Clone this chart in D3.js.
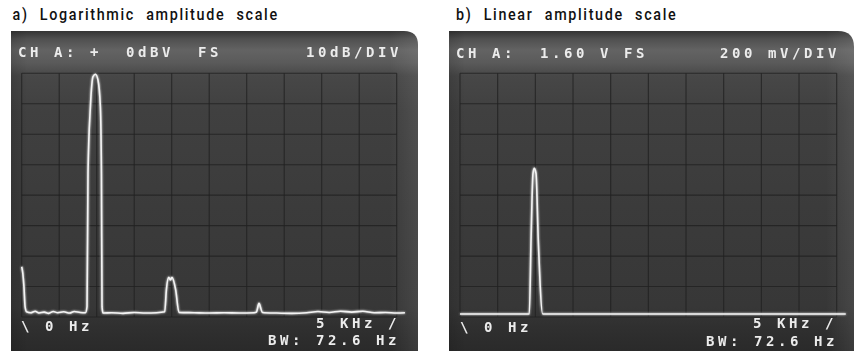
<!DOCTYPE html>
<html><head><meta charset="utf-8">
<script src="https://cdn.jsdelivr.net/npm/d3@7/dist/d3.min.js"></script>
<style>body{margin:0;background:#fff}svg{display:block}text{white-space:pre}</style>
</head><body>
<svg id="c" width="857" height="351"></svg>
<script>
// ---------- data ----------
const freqTicks = [0, 500, 1000, 1500, 2000, 2500, 3000, 3500, 4000, 4500, 5000];
const dbTicks = [0, -10, -20, -30, -40, -50, -60, -70, -80];
const voltTicks = [0, 0.2, 0.4, 0.6, 0.8, 1.0, 1.2, 1.4, 1.6];

// a) logarithmic amplitude trace (Hz, dBV)
const logFreq = [0, 15, 30, 45, 65, 120, 180, 230, 300, 360, 420, 480, 560, 640, 700, 780, 850,
  871, 884, 916, 951, 983, 1017, 1049, 1063, 1071, 1084,
  1200, 1350, 1500, 1650, 1800, 1907, 1929, 1960, 1983, 2004, 2053, 2097,
  2300, 2500, 2700, 2900, 3100, 3129, 3164, 3209,
  3400, 3600, 3800, 3950, 4100, 4250, 4400, 4550, 4700, 4850, 5000, 5110];
const logDb = [-63.5, -65.7, -70, -76.6, -78.3, -78.6, -78.1, -78.7, -78.4, -78.8, -78.2, -78.6, -78.3, -78.7, -78.2, -78.5, -78.6,
  -76.6, -32.8, -11.0, -1.1, -0.3, -2.2, -11.0, -32.8, -76.6, -78.7,
  -78.6, -78.8, -78.5, -78.7, -78.6, -78.3, -71.1, -67.0, -67.8, -67.0, -71.1, -78.5,
  -78.6, -78.7, -78.6, -78.7, -78.6, -78.4, -75.5, -78.5,
  -78.7, -78.8, -78.6, -78.2, -78.5, -78.1, -78.4, -78.1, -78.6, -78.5, -78.7, -78.6];

// b) linear amplitude trace (Hz, V)
const linFreq = [0, 500, 800, 920, 943, 969, 986, 1009, 1039, 1098, 2000, 3000, 4000, 5000, 5120];
const linVolt = [0.02, 0.02, 0.02, 0.02, 0.505, 0.943, 0.976, 0.943, 0.505, 0.02, 0.02, 0.02, 0.02, 0.02, 0.02];

const panelTitles = ["a) Logarithmic amplitude scale", "b) Linear amplitude scale"];
const headerLeft = ["CH A: +  0dBV  FS", "CH A:  1.60 V FS"];
const headerRight = ["10dB/DIV", "200 mV/DIV"];
const startLabel = "\\ 0 Hz";
const stopLabel = "5 KHz /";
const bwLabel = "BW: 72.6 Hz";

// ---------- layout ----------
const svg = d3.select("#c");
const defs = svg.append("defs");

const grad = defs.append("linearGradient").attr("id", "scr").attr("x1", 0).attr("y1", 0).attr("x2", 0).attr("y2", 1);
[[0, "#343434"], [0.025, "#505050"], [0.06, "#636363"], [0.1, "#5a5a5a"], [0.14, "#474747"], [0.25, "#404040"], [0.55, "#3b3b3b"], [0.86, "#373737"], [0.92, "#303030"], [1, "#2a2a2a"]]
  .forEach(([o, c]) => grad.append("stop").attr("offset", o).attr("stop-color", c));
const hgrad = defs.append("linearGradient").attr("id", "edge").attr("x1", 0).attr("y1", 0).attr("x2", 1).attr("y2", 0);
[[0, "rgba(0,0,0,0.12)"], [0.04, "rgba(0,0,0,0)"], [0.93, "rgba(255,255,255,0)"], [1, "rgba(255,255,255,0.08)"]]
  .forEach(([o, c]) => hgrad.append("stop").attr("offset", o).attr("stop-color", c));

const glow = defs.append("filter").attr("id", "glow").attr("x", "-20%").attr("y", "-20%").attr("width", "140%").attr("height", "140%");
glow.append("feGaussianBlur").attr("stdDeviation", 1.1).attr("result", "b");
const fm = glow.append("feMerge");
fm.append("feMergeNode").attr("in", "b");
fm.append("feMergeNode").attr("in", "SourceGraphic");

const textBlur = defs.append("filter").attr("id", "tb");
textBlur.append("feGaussianBlur").attr("stdDeviation", 0.4);

const panels = [
  { screen: { x: 11, y: 31, w: 407, h: 320, r: 14 }, grid: { x0: 21.7, x1: 396.7, y0: 73.3, y1: 317 },
    titleX: 12.5, hdrL: [18, 57], hdrR: [306, 57], start: [21, 331], stop: [316, 327.5], bw: [268, 344.5],
    yDomain: [-80, 0], yTicks: dbTicks, freq: logFreq, amp: logDb },
  { screen: { x: 449, y: 31, w: 405, h: 320, r: 16 }, grid: { x0: 460, x1: 836.7, y0: 73.3, y1: 317 },
    titleX: 456, hdrL: [456, 57.5], hdrR: [720, 57.5], start: [460, 331.5], stop: [753, 328], bw: [706, 345.5],
    yDomain: [0, 1.6], yTicks: voltTicks, freq: linFreq, amp: linVolt }
];

panels.forEach((p, i) => {
  const g = svg.append("g");
  const s = p.screen;
  const path = `M${s.x},${s.y} H${s.x + s.w - s.r} Q${s.x + s.w},${s.y} ${s.x + s.w},${s.y + s.r} V${s.y + s.h} H${s.x} Z`;
  g.append("path").attr("d", path).attr("fill", "url(#scr)");
  g.append("path").attr("d", path).attr("fill", "url(#edge)");

  const x = d3.scaleLinear().domain([0, 5000]).range([p.grid.x0, p.grid.x1]);
  const y = d3.scaleLinear().domain(p.yDomain).range([p.grid.y1, p.grid.y0]);

  // grid
  const grid = g.append("g").attr("stroke", "#202020").attr("stroke-width", 1.1).attr("stroke-opacity", 0.8);
  grid.selectAll("line.v").data(freqTicks).join("line").attr("class", "v")
    .attr("x1", d => x(d)).attr("x2", d => x(d)).attr("y1", p.grid.y0).attr("y2", p.grid.y1);
  grid.selectAll("line.h").data(p.yTicks).join("line").attr("class", "h")
    .attr("x1", p.grid.x0).attr("x2", p.grid.x1).attr("y1", d => y(d)).attr("y2", d => y(d));

  // trace
  const pts = p.freq.map((f, k) => [f, p.amp[k]]);
  const line = d3.line().x(d => x(d[0])).y(d => y(d[1])).curve(d3.curveMonotoneX);
  g.append("path").datum(pts).attr("d", line).attr("fill", "none")
    .attr("stroke", "#f4f4f4").attr("stroke-width", 1.6).attr("stroke-linejoin", "round")
    .attr("filter", "url(#glow)");

  // screen text
  const st = g.append("g").attr("fill", "#ececec").attr("font-family", "'DejaVu Sans Mono', monospace")
    .attr("font-weight", "bold").attr("font-size", 14).attr("letter-spacing", 3.57).attr("filter", "url(#tb)");
  [[headerLeft[i], p.hdrL], [headerRight[i], p.hdrR], [startLabel, p.start], [stopLabel, p.stop], [bwLabel, p.bw]]
    .forEach(([t, pos]) => st.append("text").attr("x", pos[0]).attr("y", pos[1])
      .attr("xml:space", "preserve").style("white-space", "pre").text(t));

  // title (condensed via horizontal scale)
  svg.append("text").attr("transform", `translate(${p.titleX},19.5) scale(0.87,1)`).attr("fill", "#111")
    .attr("font-family", "Roboto, 'Liberation Sans', sans-serif").attr("font-weight", 500)
    .attr("font-size", 16.5).attr("letter-spacing", 1.9).attr("word-spacing", 7)
    .text(panelTitles[i]);
});
</script>
</body></html>
